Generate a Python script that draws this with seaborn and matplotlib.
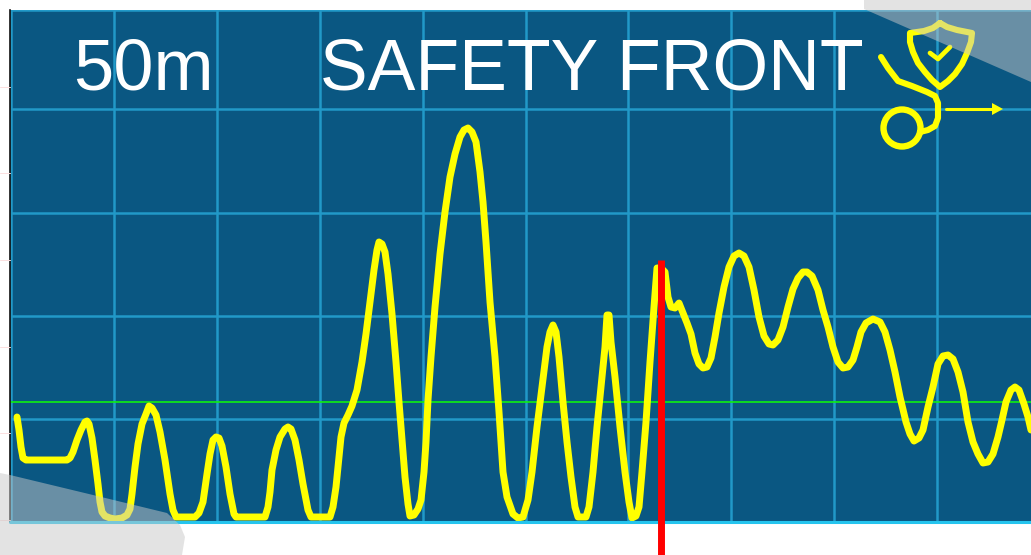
import matplotlib
matplotlib.use("Agg")
import matplotlib.pyplot as plt
from matplotlib.patches import Polygon, Circle
from matplotlib.lines import Line2D
import pandas as pd
import seaborn as sns

sns.set_theme(style="white")
plt.rcParams['font.family'] = ['Liberation Sans', 'DejaVu Sans']

# axis units: one grid square = 103
grid_x = [1, 104, 207, 310, 413, 516, 618, 721, 824, 927]
grid_y = [0, 103, 206, 309, 413, 512]

distance = [7, 9, 11, 13, 16, 57, 60, 63, 67, 71, 75, 77, 79, 82, 85, 88, 90, 92, 95, 100, 105, 112, 117, 120,
            122, 125, 128, 132, 136, 139, 142, 146, 150, 155, 160, 163, 166, 185, 189, 193, 197, 200, 203,
            206, 209, 212, 216, 220, 224, 226, 255, 258, 260, 262, 266, 270, 275, 278, 281, 285, 289, 293,
            298, 301, 320, 323, 326, 328, 331, 334, 338, 342, 347, 352, 356, 360, 364, 367, 369, 372, 375,
            378, 382, 386, 389, 392, 395, 398, 400, 404, 408, 411, 414, 416, 418, 421, 425, 430, 435, 440,
            445, 450, 454, 458, 462, 466, 470, 473, 476, 480, 485, 489, 493, 497, 503, 508, 513, 518, 522,
            527, 532, 537, 540, 543, 546, 549, 553, 557, 561, 565, 568, 576, 579, 583, 587, 591, 595, 597, 599,
            601, 605, 610, 615, 619, 622, 626, 629, 632, 636, 640, 644, 647, 651, 655, 658, 661, 665, 669,
            673, 677, 681, 685, 689, 693, 697, 701, 705, 709, 714, 719, 724, 729, 734, 739, 744, 749, 754,
            759, 763, 768, 773, 778, 783, 788, 793, 797, 802, 808, 813, 818, 823, 828, 833, 838, 843, 847,
            851, 856, 863, 870, 875, 880, 885, 890, 896, 900, 904, 909, 913, 918, 923, 928, 933, 938, 943,
            948, 953, 958, 963, 968, 973, 978, 983, 988, 992, 996, 1001, 1005, 1009, 1014, 1018, 1021]
level = [105, 92, 75, 64, 62, 62, 64, 70, 82, 92, 100, 101, 98, 84, 62, 38, 20, 10, 6, 4, 3, 4, 7, 13,
         28, 55, 78, 98, 108, 116, 114, 107, 90, 62, 28, 12, 5, 5, 9, 20, 48, 68, 82,
         85, 84, 76, 55, 28, 8, 5, 5, 15, 30, 52, 72, 85, 93, 95, 93, 82, 62, 38,
         12, 5, 5, 15, 35, 55, 85, 99, 107, 116, 132, 160, 188, 220, 252, 272, 280, 278, 270,
         248, 208, 160, 120, 82, 45, 18, 6, 7, 13, 22, 50, 80, 122, 165, 215, 268, 310, 345,
         368, 385, 392, 394, 390, 380, 350, 320, 280, 220, 165, 110, 50, 25, 8, 4, 5, 22, 50,
         95, 135, 175, 190, 197, 190, 165, 120, 80, 45, 15, 5, 5, 15, 50, 95, 135, 175, 207, 207,
         180, 145, 95, 50, 20, 4, 6, 15, 50, 100, 160, 215, 254, 254, 250, 225, 215, 214, 219,
         209, 199, 188, 169, 158, 154, 155, 164, 185, 209, 235, 255, 266, 269, 266, 255, 232, 205, 186,
         178, 177, 182, 195, 215, 233, 244, 250, 250, 246, 232, 212, 195, 175, 160, 154, 155, 162, 175,
         190, 199, 203, 200, 190, 172, 150, 125, 100, 88, 81, 84, 92, 115, 135, 158, 166, 167, 163,
         150, 130, 100, 80, 68, 59, 60, 68, 85, 102, 120, 132, 135, 132, 118, 105, 92]

threshold = 120
now_x = 651
now_top = 262

title_left = "50m"
title_right = "SAFETY FRONT"

df = pd.DataFrame({"distance": distance, "level": level})


def px(x, y):
    # icon is laid out in screen pixels, map to axis units
    return x - 10, 522 - y


fig = plt.figure(figsize=(10.31, 5.55), dpi=100, facecolor="white")
ax = fig.add_axes([10 / 1031, 33 / 555, 1021 / 1031, 512 / 555])
ax.set_facecolor("#0a5782")
ax.set_xlim(0, 1021)
ax.set_ylim(0, 512)
ax.set_xticks(grid_x)
ax.set_yticks(grid_y)
ax.tick_params(left=False, bottom=False, labelleft=False, labelbottom=False)
ax.grid(True, color="#2199c8", lw=1.8)
ax.set_axisbelow(True)
for side in ax.spines:
    ax.spines[side].set_visible(False)
ax.spines['left'].set_visible(True)
ax.spines['left'].set_color("#111111")
ax.spines['left'].set_linewidth(1.2)

ax.axhline(0, color="#25c4ee", lw=2.2, zorder=4, clip_on=False)
ax.axhline(threshold, color="#10f010", lw=1.2, zorder=2)

sns.lineplot(data=df, x="distance", y="level", ax=ax, color="#ffff00", lw=5,
             errorbar=None, estimator=None, sort=False, zorder=3)
ax.lines[-1].set_solid_joinstyle("round")
ax.set_xlabel("")
ax.set_ylabel("")
ax.plot([now_x, now_x], [-33, now_top], color="#ff0000", lw=5, clip_on=False, zorder=6,
        solid_capstyle="butt")

ax.text(*px(73, 90), title_left, color="white", fontsize=52, va="baseline", ha="left", zorder=5)
ax.text(*px(320, 90), title_right, color="white", fontsize=51.6, va="baseline", ha="left", zorder=5)

# logo
shield = [(940, 23), (933, 28), (924, 31), (910, 33), (910, 42), (913, 52), (918, 63), (925, 72), (932, 80),
          (940, 87), (948, 81), (955, 74), (962, 64), (967, 53), (971, 42), (972, 33), (957, 30), (947, 27), (940, 23)]
check = [(930, 53), (938, 59), (950, 47)]
hose = [(881, 57), (888, 68), (898, 81), (912, 86), (927, 92), (935, 96), (938, 103), (938, 118),
        (935, 126), (928, 130), (920, 132)]
for pts, w in [(shield, 4.4), (check, 3.4), (hose, 4.4)]:
    ax.plot(*zip(*[px(*p) for p in pts]), color="#ffff00", lw=w, zorder=5, clip_on=False,
            solid_joinstyle="round")
ax.add_patch(Circle(px(902, 128), 18.5, fc="none", ec="#ffff00", lw=4.6, zorder=5))
ax.plot(*zip(*[px(946, 109), px(995, 109)]), color="#ffff00", lw=2.2, zorder=5)
ax.add_patch(Polygon([px(992, 103), px(1003, 109), px(992, 115)], fc="#ffff00", ec="none", zorder=5))

# faint marks left of the plot
for y in [87, 173, 260, 347, 433, 520]:
    fig.add_artist(Line2D([0, 10 / 1031], [1 - y / 555] * 2, color="#fbdede", lw=0.7))

# grey overlay corners
corner_a = [(0, 473), (10, 475), (93, 495), (167, 513), (180, 525), (185, 537), (182, 555), (0, 555)]
corner_b = [(864, 0), (864, 9), (1031, 82), (1031, 0)]
for corner in [corner_a, corner_b]:
    fig.add_artist(Polygon([(x / 1031, 1 - y / 555) for x, y in corner], closed=True,
                           transform=fig.transFigure, fc="#c8c8c8", ec="none", alpha=0.5, zorder=5))

fig.savefig("out.png", dpi=100)
